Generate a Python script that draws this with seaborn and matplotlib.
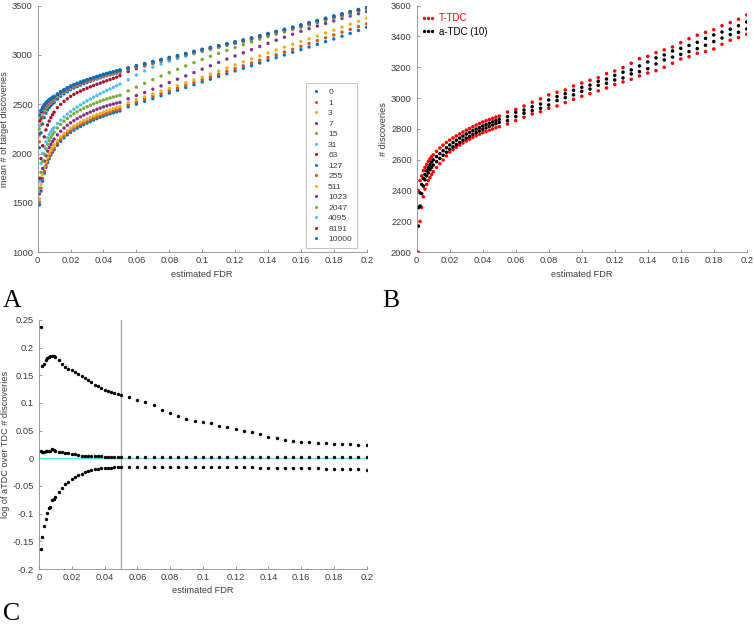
import matplotlib
matplotlib.use("Agg")
import matplotlib.pyplot as plt
from matplotlib.lines import Line2D
from matplotlib.ticker import FuncFormatter
import pandas as pd
import seaborn as sns

# estimated FDR thresholds (shared x axis of all three panels)
fdr = [0.001, 0.002, 0.003, 0.004, 0.005, 0.006, 0.007, 0.008, 0.009, 0.010,
       0.012, 0.014, 0.016, 0.018, 0.020, 0.022, 0.024, 0.026, 0.028, 0.030,
       0.032, 0.034, 0.036, 0.038, 0.040, 0.042, 0.044, 0.046, 0.048, 0.050,
       0.055, 0.060, 0.065, 0.070, 0.075, 0.080, 0.085, 0.090, 0.095, 0.100,
       0.105, 0.110, 0.115, 0.120, 0.125, 0.130, 0.135, 0.140, 0.145, 0.150,
       0.155, 0.160, 0.165, 0.170, 0.175, 0.180, 0.185, 0.190, 0.195, 0.200]

# panel A: mean # of target discoveries, one list per legend entry
legend_labels = ['0', '1', '3', '7', '15', '31', '63', '127', '255', '511',
                 '1023', '2047', '4095', '8191', '10000']

disc_0 = [1480, 1620, 1720, 1800, 1860, 1910, 1950, 1985, 2015, 2040,
          2085, 2125, 2160, 2190, 2215, 2238, 2258, 2276, 2293, 2310,
          2325, 2340, 2354, 2367, 2380, 2392, 2403, 2413, 2423, 2432,
          2474, 2502, 2530, 2558, 2586, 2614, 2642, 2670, 2698, 2726,
          2754, 2782, 2810, 2838, 2865, 2892, 2919, 2946, 2973, 3000,
          3027, 3054, 3081, 3108, 3135, 3162, 3190, 3218, 3248, 3281]
disc_1 = [1510, 1650, 1745, 1822, 1880, 1928, 1968, 2002, 2032, 2058,
          2103, 2143, 2178, 2208, 2234, 2257, 2277, 2296, 2313, 2329,
          2344, 2358, 2372, 2385, 2398, 2410, 2421, 2432, 2444, 2455,
          2495, 2524, 2553, 2582, 2610, 2638, 2666, 2694, 2722, 2750,
          2778, 2806, 2834, 2862, 2890, 2918, 2946, 2974, 3002, 3030,
          3058, 3087, 3116, 3145, 3174, 3203, 3231, 3259, 3287, 3315]
disc_3 = [1540, 1690, 1785, 1860, 1915, 1962, 2000, 2033, 2062, 2088,
          2132, 2170, 2203, 2232, 2258, 2280, 2300, 2319, 2336, 2352,
          2367, 2381, 2395, 2408, 2421, 2433, 2445, 2456, 2467, 2478,
          2518, 2547, 2576, 2605, 2633, 2661, 2689, 2718, 2746, 2775,
          2806, 2837, 2868, 2900, 2930, 2960, 2990, 3020, 3050, 3080,
          3108, 3136, 3164, 3192, 3222, 3252, 3282, 3312, 3342, 3372]
disc_7 = [1590, 1750, 1850, 1925, 1980, 2025, 2062, 2094, 2122, 2147,
          2190, 2227, 2259, 2287, 2312, 2334, 2354, 2373, 2390, 2406,
          2421, 2435, 2449, 2462, 2474, 2484, 2494, 2503, 2512, 2520,
          2556, 2588, 2620, 2653, 2686, 2720, 2754, 2788, 2822, 2856,
          2890, 2924, 2958, 2990, 3022, 3054, 3086, 3118, 3149, 3180,
          3210, 3240, 3267, 3293, 3319, 3345, 3370, 3395, 3418, 3440]
disc_15 = [1650, 1810, 1920, 1995, 2050, 2095, 2132, 2164, 2192, 2217,
           2260, 2296, 2328, 2356, 2381, 2404, 2424, 2443, 2460, 2476,
           2491, 2505, 2518, 2531, 2543, 2554, 2564, 2574, 2583, 2592,
           2636, 2674, 2712, 2750, 2786, 2821, 2855, 2889, 2922, 2955,
           2986, 3016, 3046, 3075, 3104, 3132, 3160, 3186, 3210, 3234,
           3257, 3280, 3303, 3326, 3349, 3371, 3393, 3415, 3437, 3459]
disc_31 = [1720, 1900, 2000, 2070, 2120, 2160, 2195, 2222, 2245, 2265,
           2305, 2340, 2372, 2400, 2425, 2449, 2472, 2494, 2515, 2535,
           2554, 2572, 2590, 2607, 2624, 2640, 2656, 2672, 2688, 2705,
           2748, 2795, 2838, 2876, 2908, 2937, 2963, 2988, 3012, 3036,
           3058, 3080, 3101, 3122, 3142, 3163, 3185, 3207, 3229, 3250,
           3272, 3294, 3316, 3338, 3361, 3384, 3406, 3428, 3450, 3472]
disc_63 = [1750, 1950, 2080, 2170, 2240, 2290, 2330, 2365, 2395, 2420,
           2465, 2500, 2530, 2556, 2580, 2600, 2618, 2634, 2649, 2663,
           2677, 2690, 2703, 2715, 2727, 2739, 2751, 2763, 2775, 2790,
           2832, 2862, 2889, 2914, 2938, 2960, 2982, 3004, 3026, 3047,
           3068, 3088, 3108, 3128, 3147, 3168, 3190, 3212, 3234, 3255,
           3277, 3299, 3322, 3344, 3367, 3390, 3412, 3434, 3456, 3478]
disc_127 = [2060, 2210, 2300, 2365, 2410, 2443, 2468, 2488, 2505, 2519,
            2553, 2582, 2606, 2628, 2648, 2665, 2680, 2694, 2708, 2721,
            2734, 2746, 2757, 2768, 2779, 2789, 2798, 2807, 2816, 2825,
            2854, 2876, 2897, 2918, 2939, 2959, 2979, 3000, 3021, 3042,
            3061, 3080, 3099, 3118, 3137, 3158, 3180, 3202, 3224, 3245,
            3267, 3289, 3312, 3334, 3357, 3380, 3402, 3424, 3446, 3468]
disc_255 = [2120, 2290, 2375, 2424, 2457, 2481, 2500, 2516, 2530, 2542,
            2573, 2599, 2621, 2642, 2661, 2677, 2691, 2705, 2718, 2730,
            2742, 2753, 2764, 2775, 2786, 2795, 2804, 2813, 2821, 2830,
            2856, 2878, 2899, 2920, 2941, 2961, 2981, 3002, 3023, 3044,
            3063, 3082, 3101, 3120, 3139, 3160, 3182, 3204, 3226, 3247,
            3269, 3291, 3314, 3336, 3359, 3382, 3404, 3426, 3448, 3470]
disc_511 = [2180, 2330, 2400, 2442, 2471, 2493, 2511, 2526, 2539, 2550,
            2580, 2605, 2627, 2648, 2667, 2682, 2696, 2709, 2722, 2734,
            2746, 2757, 2768, 2779, 2790, 2799, 2808, 2816, 2825, 2833,
            2858, 2880, 2901, 2922, 2943, 2963, 2983, 3004, 3025, 3046,
            3065, 3084, 3103, 3122, 3141, 3162, 3184, 3206, 3228, 3249,
            3271, 3293, 3316, 3338, 3361, 3384, 3406, 3428, 3450, 3472]
disc_1023 = [2200, 2355, 2420, 2456, 2482, 2502, 2519, 2533, 2545, 2556,
             2585, 2610, 2632, 2652, 2671, 2686, 2700, 2713, 2725, 2737,
             2749, 2760, 2771, 2782, 2793, 2802, 2811, 2819, 2828, 2836,
             2860, 2882, 2903, 2924, 2945, 2965, 2985, 3006, 3027, 3048,
             3067, 3086, 3105, 3124, 3143, 3164, 3186, 3208, 3230, 3251,
             3273, 3295, 3318, 3340, 3363, 3386, 3408, 3430, 3452, 3474]
disc_2047 = [2250, 2385, 2440, 2471, 2494, 2513, 2528, 2541, 2553, 2563,
             2591, 2615, 2637, 2657, 2675, 2690, 2704, 2717, 2729, 2741,
             2752, 2763, 2774, 2785, 2796, 2805, 2814, 2822, 2831, 2839,
             2862, 2884, 2905, 2926, 2947, 2967, 2987, 3008, 3029, 3050,
             3069, 3088, 3107, 3126, 3145, 3166, 3188, 3210, 3232, 3253,
             3275, 3297, 3320, 3342, 3365, 3388, 3410, 3432, 3454, 3476]
disc_4095 = [2280, 2405, 2450, 2480, 2502, 2520, 2535, 2548, 2559, 2569,
             2596, 2620, 2641, 2661, 2679, 2694, 2707, 2720, 2732, 2744,
             2755, 2766, 2777, 2788, 2799, 2808, 2817, 2825, 2834, 2842,
             2864, 2886, 2907, 2928, 2949, 2969, 2989, 3010, 3031, 3052,
             3071, 3090, 3109, 3128, 3147, 3168, 3190, 3212, 3234, 3255,
             3277, 3299, 3322, 3344, 3367, 3390, 3412, 3434, 3456, 3478]
disc_8191 = [2330, 2425, 2462, 2489, 2510, 2527, 2542, 2554, 2565, 2575,
             2601, 2624, 2645, 2665, 2683, 2697, 2710, 2723, 2735, 2747,
             2758, 2769, 2780, 2791, 2802, 2811, 2820, 2828, 2837, 2845,
             2867, 2889, 2910, 2931, 2952, 2972, 2992, 3013, 3034, 3055,
             3074, 3093, 3112, 3131, 3150, 3171, 3193, 3215, 3237, 3258,
             3280, 3302, 3325, 3347, 3370, 3393, 3415, 3437, 3459, 3481]
disc_10000 = [2390, 2440, 2472, 2497, 2517, 2534, 2548, 2560, 2571, 2581,
              2605, 2628, 2648, 2668, 2686, 2700, 2713, 2726, 2738, 2750,
              2761, 2772, 2783, 2794, 2805, 2814, 2823, 2831, 2840, 2848,
              2870, 2892, 2913, 2934, 2955, 2975, 2995, 3016, 3037, 3058,
              3077, 3096, 3115, 3134, 3153, 3174, 3196, 3218, 3240, 3261,
              3283, 3305, 3328, 3350, 3373, 3396, 3418, 3440, 3462, 3484]

# panel B: # discoveries, upper / lower band of each method
ttdc_upper = [2400, 2465, 2495, 2530, 2550, 2570, 2590, 2605, 2620, 2632,
              2655, 2676, 2695, 2712, 2728, 2742, 2755, 2768, 2780, 2792,
              2803, 2814, 2825, 2835, 2845, 2853, 2861, 2869, 2877, 2884,
              2910, 2927, 2949, 2973, 2995, 3021, 3038, 3053, 3079, 3098,
              3116, 3133, 3159, 3176, 3198, 3226, 3256, 3271, 3295, 3313,
              3332, 3360, 3386, 3408, 3427, 3444, 3470, 3490, 3512, 3540]
ttdc_lower = [2000, 2200, 2290, 2360, 2410, 2440, 2465, 2485, 2505, 2523,
              2550, 2575, 2598, 2625, 2650, 2666, 2681, 2695, 2709, 2722,
              2734, 2745, 2756, 2766, 2776, 2784, 2792, 2800, 2808, 2815,
              2832, 2854, 2876, 2897, 2912, 2934, 2949, 2971, 2992, 3012,
              3029, 3047, 3066, 3088, 3105, 3122, 3144, 3163, 3178, 3200,
              3226, 3254, 3269, 3291, 3302, 3319, 3349, 3375, 3393, 3414]
atdc_upper = [2290, 2385, 2440, 2480, 2505, 2530, 2550, 2568, 2585, 2599,
              2620, 2640, 2659, 2678, 2696, 2712, 2727, 2741, 2754, 2767,
              2778, 2789, 2799, 2809, 2819, 2828, 2837, 2846, 2855, 2863,
              2880, 2908, 2923, 2945, 2962, 2988, 3010, 3029, 3051, 3070,
              3085, 3109, 3124, 3148, 3168, 3183, 3209, 3235, 3261, 3280,
              3306, 3323, 3342, 3362, 3388, 3410, 3429, 3447, 3470, 3494]
atdc_lower = [2170, 2300, 2380, 2430, 2470, 2495, 2515, 2535, 2550, 2566,
              2588, 2609, 2629, 2649, 2668, 2684, 2699, 2713, 2727, 2740,
              2752, 2764, 2776, 2787, 2798, 2807, 2816, 2825, 2834, 2843,
              2854, 2880, 2902, 2919, 2934, 2956, 2984, 3003, 3021, 3044,
              3059, 3083, 3096, 3118, 3131, 3157, 3172, 3191, 3222, 3248,
              3266, 3284, 3302, 3321, 3343, 3367, 3390, 3412, 3427, 3449]

# panel C: log of aTDC over TDC # discoveries
log_ratio_upper = [0.238, 0.166, 0.170, 0.177, 0.181, 0.183, 0.184, 0.184, 0.184, 0.183,
                   0.177, 0.171, 0.165, 0.161, 0.159, 0.156, 0.153, 0.148, 0.145, 0.141,
                   0.137, 0.133, 0.130, 0.127, 0.124, 0.122, 0.120, 0.118, 0.116, 0.114,
                   0.110, 0.105, 0.102, 0.096, 0.088, 0.081, 0.077, 0.071, 0.068, 0.065,
                   0.063, 0.059, 0.056, 0.053, 0.050, 0.047, 0.044, 0.039, 0.036, 0.033,
                   0.032, 0.030, 0.029, 0.028, 0.027, 0.026, 0.025, 0.025, 0.024, 0.024]
log_ratio_mid = [0.013, 0.012, 0.012, 0.013, 0.013, 0.013, 0.014, 0.016, 0.015, 0.013,
                 0.012, 0.011, 0.010, 0.009, 0.008, 0.007, 0.006, 0.005, 0.0045, 0.004,
                 0.004, 0.0038, 0.0035, 0.0033, 0.003, 0.003, 0.0028, 0.0027, 0.0025, 0.0024,
                 0.0022, 0.0021, 0.0021, 0.0020, 0.0021, 0.0020, 0.0020, 0.0020, 0.0019, 0.0020,
                 0.0020, 0.0019, 0.0019, 0.0020, 0.0019, 0.0019, 0.0019, 0.0018, 0.0019, 0.0018,
                 0.0018, 0.0018, 0.0018, 0.0017, 0.0018, 0.0017, 0.0017, 0.0017, 0.0017, 0.0016]
log_ratio_lower = [-0.163, -0.143, -0.123, -0.110, -0.099, -0.089, -0.088, -0.076, -0.073, -0.069,
                   -0.060, -0.053, -0.046, -0.042, -0.038, -0.034, -0.031, -0.028, -0.025, -0.023,
                   -0.021, -0.020, -0.019, -0.018, -0.0175, -0.017, -0.017, -0.0165, -0.016, -0.016,
                   -0.015, -0.016, -0.016, -0.016, -0.015, -0.016, -0.015, -0.015, -0.016, -0.016,
                   -0.016, -0.016, -0.016, -0.016, -0.016, -0.016, -0.017, -0.017, -0.017, -0.017,
                   -0.018, -0.018, -0.018, -0.018, -0.019, -0.019, -0.019, -0.019, -0.020, -0.021]

matlab_colors = ['#0072BD', '#D95319', '#EDB120', '#7E2F8E', '#77AC30', '#4DBEEE', '#A2142F']
text_gray = '#3a3a3a'
axis_gray = '#8a8a8a'

sns.set_style("ticks")
plt.rcParams['font.family'] = ['Liberation Sans', 'DejaVu Sans']
plt.rcParams.update({
    'xtick.direction': 'in', 'ytick.direction': 'in',
    'xtick.major.size': 2.5, 'ytick.major.size': 2.5,
    'xtick.major.width': 0.6, 'ytick.major.width': 0.6,
    'xtick.major.pad': 3, 'ytick.major.pad': 3.5,
    'xtick.color': axis_gray, 'ytick.color': axis_gray,
    'xtick.labelcolor': text_gray, 'ytick.labelcolor': text_gray,
    'xtick.labelsize': 6.7, 'ytick.labelsize': 6.7,
    'axes.edgecolor': axis_gray, 'axes.linewidth': 0.6,
    'axes.labelsize': 6.6, 'axes.labelcolor': text_gray,
})


def style_axes(ax, ylo, yhi, ystep, ylabel):
    ax.set_xlim(0, 0.2)
    ax.set_ylim(ylo, yhi)
    ax.set_xticks([i * 0.02 for i in range(11)])
    n = int(round((yhi - ylo) / ystep))
    ax.set_yticks([ylo + i * ystep for i in range(n + 1)])
    fmt = FuncFormatter(lambda v, pos: '%g' % round(v, 4))
    ax.xaxis.set_major_formatter(fmt)
    ax.yaxis.set_major_formatter(fmt)
    ax.set_xlabel('estimated FDR', labelpad=3)
    ax.set_ylabel(ylabel, labelpad=2)
    sns.despine(ax=ax)


fig = plt.figure(figsize=(7.54, 6.26), dpi=100)
ax_a = fig.add_axes([0.050, 0.597, 0.4363, 0.394])
ax_b = fig.add_axes([0.5527, 0.597, 0.4377, 0.394])
ax_c = fig.add_axes([0.0517, 0.091, 0.4346, 0.398])

# ---- panel A
series_a = [disc_0, disc_1, disc_3, disc_7, disc_15, disc_31, disc_63, disc_127,
            disc_255, disc_511, disc_1023, disc_2047, disc_4095, disc_8191, disc_10000]
df_a = pd.concat([pd.DataFrame({'fdr': fdr, 'disc': vals, 'n': lab})
                  for lab, vals in zip(legend_labels, series_a)], ignore_index=True)
palette_a = [matlab_colors[i % 7] for i in range(len(legend_labels))]
sns.scatterplot(data=df_a, x='fdr', y='disc', hue='n', hue_order=legend_labels,
                palette=palette_a, s=6, linewidth=0, legend=False, ax=ax_a)
style_axes(ax_a, 1000, 3500, 500, 'mean # of target discoveries')
handles_a = [Line2D([0], [0], ls='none', marker='o', ms=2.2, mew=0, color=c) for c in palette_a]
leg_a = ax_a.legend(handles_a, legend_labels, loc='lower right', bbox_to_anchor=(0.9705, 0.017),
                    borderaxespad=0, fontsize=6.1, numpoints=1, labelspacing=0.3,
                    handlelength=1.1, handletextpad=0.9, borderpad=0.6, frameon=True,
                    fancybox=False)
leg_a.get_frame().set_edgecolor('#a8a8a8')
leg_a.get_frame().set_linewidth(0.6)
for t in leg_a.get_texts():
    t.set_color(text_gray)

# ---- panel B
df_b = pd.concat([
    pd.DataFrame({'fdr': fdr, 'disc': ttdc_upper, 'method': 'T-TDC'}),
    pd.DataFrame({'fdr': fdr, 'disc': ttdc_lower, 'method': 'T-TDC'}),
    pd.DataFrame({'fdr': fdr, 'disc': atdc_upper, 'method': 'a-TDC (10)'}),
    pd.DataFrame({'fdr': fdr, 'disc': atdc_lower, 'method': 'a-TDC (10)'}),
], ignore_index=True)
palette_b = {'T-TDC': '#ff0000', 'a-TDC (10)': '#000000'}
sns.scatterplot(data=df_b, x='fdr', y='disc', hue='method', palette=palette_b,
                s=6.5, linewidth=0, legend=False, ax=ax_b)
style_axes(ax_b, 2000, 3600, 200, '# discoveries')
handles_b = [Line2D([0], [0], ls='none', marker='o', ms=2.4, mew=0, color=c)
             for c in palette_b.values()]
leg_b = ax_b.legend(handles_b, list(palette_b.keys()), loc='upper left',
                    bbox_to_anchor=(0.0, 0.985), borderaxespad=0, frameon=False,
                    fontsize=7, numpoints=3, handlelength=1.5, handletextpad=0.4,
                    labelspacing=0.35, markerfirst=True)
for t, c in zip(leg_b.get_texts(), palette_b.values()):
    t.set_color(c)

# ---- panel C
df_c = pd.concat([
    pd.DataFrame({'fdr': fdr, 'ratio': log_ratio_upper, 'band': 'upper'}),
    pd.DataFrame({'fdr': fdr, 'ratio': log_ratio_mid, 'band': 'mid'}),
    pd.DataFrame({'fdr': fdr, 'ratio': log_ratio_lower, 'band': 'lower'}),
], ignore_index=True)
ax_c.axhline(0, color='#5fe8e8', lw=1.0, zorder=1)
ax_c.axvline(0.05, color='#a8a8a8', lw=1.0, zorder=1)
sns.scatterplot(data=df_c, x='fdr', y='ratio', color='black', s=6, linewidth=0,
                legend=False, ax=ax_c, zorder=3)
style_axes(ax_c, -0.2, 0.25, 0.05, 'log of aTDC over TDC # discoveries')

# panel letters
letter_kw = dict(fontsize=18.5, family=['Liberation Serif', 'DejaVu Serif'], color='black')
fig.text(0.004, 0.5096, 'A', va='baseline', **letter_kw)
fig.text(0.507, 0.5096, 'B', va='baseline', **letter_kw)
fig.text(0.004, 0.0096, 'C', va='baseline', **letter_kw)

fig.savefig('out.png', dpi=100)
plt.close(fig)
